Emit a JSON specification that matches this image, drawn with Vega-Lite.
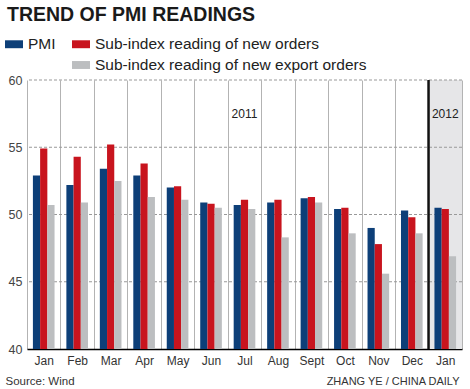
{
  "$schema": "https://vega.github.io/schema/vega-lite/v6.json",
  "width": 435,
  "height": 269,
  "autosize": {"type": "none"},
  "padding": {"left": 27, "top": 80, "right": 8, "bottom": 40},
  "background": "#ffffff",
  "config": {
    "view": {"stroke": null},
    "font": "Liberation Sans",
    "axisX": {
      "grid": true, "gridColor": "#b3b3b3", "gridWidth": 1, "tickBand": "extent",
      "domainColor": "#000000", "domainWidth": 1.5, "ticks": false,
      "labelFontSize": 12, "labelColor": "#333333", "labelPadding": 6, "labelAngle": 0,
      "labelExpr": "split(datum.label, ' ')[0]",
      "titleAnchor": "start", "titleX": -22, "titleY": 35, "titleAlign": "left",
      "titleBaseline": "alphabetic", "titleFontWeight": "normal", "titleFontSize": 11.5, "titleColor": "#333333"
    },
    "axisY": {
      "grid": false, "domain": false, "ticks": false,
      "labelFontSize": 12.5, "labelColor": "#444444", "labelPadding": 5,
      "titleAngle": 0, "titleX": 432, "titleY": 304, "titleAlign": "right",
      "titleBaseline": "alphabetic", "titleFontWeight": "normal", "titleFontSize": 11, "titleColor": "#333333"
    },
    "legend": {
      "orient": "none", "legendX": -22, "legendY": -45, "columns": 2,
      "symbolType": "M-1,-0.44H1V0.44H-1Z", "symbolSize": 324,
      "symbolStrokeWidth": 0, "symbolOpacity": 1,
      "labelFontSize": 15.5, "labelColor": "#222222", "labelOffset": 5, "labelLimit": 400,
      "columnPadding": 16, "rowPadding": 3, "padding": 0
    }
  },
  "title": {
    "text": "TREND OF PMI READINGS", "anchor": "start", "frame": "group",
    "fontSize": 19.5, "fontWeight": "bold", "color": "#1a1a1a", "dx": -20, "offset": 10
  },
  "encoding": {
    "x": {
      "field": "month", "type": "nominal", "title": "Source: Wind",
      "scale": {
        "domain": ["Jan", "Feb", "Mar", "Apr", "May", "Jun", "Jul", "Aug", "Sept", "Oct", "Nov", "Dec", "Jan 2012"],
        "paddingInner": 0, "paddingOuter": 0
      }
    }
  },
  "layer": [
    {
      "data": {"values": [{"month": "Jan 2012", "lo": 40, "hi": 60}]},
      "mark": {"type": "bar", "color": "#e6e6e8"},
      "encoding": {
        "y": {"field": "lo", "type": "quantitative", "title": "ZHANG YE / CHINA DAILY", "scale": {"domain": [40, 60], "nice": false, "zero": false}},
        "y2": {"field": "hi"}
      }
    },
    {
      "data": {"values": [{"v": 45}, {"v": 50}, {"v": 55}, {"v": 60}]},
      "mark": {"type": "rule", "color": "#999999", "strokeDash": [3, 2], "strokeWidth": 1},
      "encoding": {
        "x": null,
        "y": {"field": "v", "type": "quantitative", "title": "ZHANG YE / CHINA DAILY", "scale": {"domain": [40, 60], "nice": false, "zero": false}}
      }
    },
    {
      "data": {"values": [
        {"month": "Jan", "series": "PMI", "value": 52.9},
        {"month": "Jan", "series": "Sub-index reading of new orders", "value": 54.9},
        {"month": "Jan", "series": "Sub-index reading of new export orders", "value": 50.7},
        {"month": "Feb", "series": "PMI", "value": 52.2},
        {"month": "Feb", "series": "Sub-index reading of new orders", "value": 54.3},
        {"month": "Feb", "series": "Sub-index reading of new export orders", "value": 50.9},
        {"month": "Mar", "series": "PMI", "value": 53.4},
        {"month": "Mar", "series": "Sub-index reading of new orders", "value": 55.2},
        {"month": "Mar", "series": "Sub-index reading of new export orders", "value": 52.5},
        {"month": "Apr", "series": "PMI", "value": 52.9},
        {"month": "Apr", "series": "Sub-index reading of new orders", "value": 53.8},
        {"month": "Apr", "series": "Sub-index reading of new export orders", "value": 51.3},
        {"month": "May", "series": "PMI", "value": 52.0},
        {"month": "May", "series": "Sub-index reading of new orders", "value": 52.1},
        {"month": "May", "series": "Sub-index reading of new export orders", "value": 51.1},
        {"month": "Jun", "series": "PMI", "value": 50.9},
        {"month": "Jun", "series": "Sub-index reading of new orders", "value": 50.8},
        {"month": "Jun", "series": "Sub-index reading of new export orders", "value": 50.5},
        {"month": "Jul", "series": "PMI", "value": 50.7},
        {"month": "Jul", "series": "Sub-index reading of new orders", "value": 51.1},
        {"month": "Jul", "series": "Sub-index reading of new export orders", "value": 50.4},
        {"month": "Aug", "series": "PMI", "value": 50.9},
        {"month": "Aug", "series": "Sub-index reading of new orders", "value": 51.1},
        {"month": "Aug", "series": "Sub-index reading of new export orders", "value": 48.3},
        {"month": "Sept", "series": "PMI", "value": 51.2},
        {"month": "Sept", "series": "Sub-index reading of new orders", "value": 51.3},
        {"month": "Sept", "series": "Sub-index reading of new export orders", "value": 50.9},
        {"month": "Oct", "series": "PMI", "value": 50.4},
        {"month": "Oct", "series": "Sub-index reading of new orders", "value": 50.5},
        {"month": "Oct", "series": "Sub-index reading of new export orders", "value": 48.6},
        {"month": "Nov", "series": "PMI", "value": 49.0},
        {"month": "Nov", "series": "Sub-index reading of new orders", "value": 47.8},
        {"month": "Nov", "series": "Sub-index reading of new export orders", "value": 45.6},
        {"month": "Dec", "series": "PMI", "value": 50.3},
        {"month": "Dec", "series": "Sub-index reading of new orders", "value": 49.8},
        {"month": "Dec", "series": "Sub-index reading of new export orders", "value": 48.6},
        {"month": "Jan 2012", "series": "PMI", "value": 50.5},
        {"month": "Jan 2012", "series": "Sub-index reading of new orders", "value": 50.4},
        {"month": "Jan 2012", "series": "Sub-index reading of new export orders", "value": 46.9}
      ]},
      "mark": {"type": "bar"},
      "encoding": {
        "xOffset": {
          "field": "series", "type": "nominal",
          "scale": {"domain": ["PMI", "Sub-index reading of new orders", "Sub-index reading of new export orders"], "paddingInner": 0, "paddingOuter": 0.82}
        },
        "y": {
          "field": "value", "type": "quantitative", "title": "ZHANG YE / CHINA DAILY",
          "scale": {"domain": [40, 60], "nice": false, "zero": false},
          "axis": {"values": [40, 45, 50, 55, 60]}
        },
        "y2": {"datum": 40},
        "color": {
          "field": "series", "type": "nominal",
          "scale": {
            "domain": ["PMI", " ", "Sub-index reading of new orders", "Sub-index reading of new export orders"],
            "range": ["#0d3f78", "transparent", "#c8141e", "#bcbec0"]
          },
          "legend": {"title": null}
        }
      }
    },
    {
      "data": {"values": [{"month": "Jan 2012"}]},
      "mark": {"type": "rule", "color": "#111111", "strokeWidth": 2.5},
      "encoding": {
        "x": {"field": "month", "type": "nominal", "bandPosition": 0, "title": "Source: Wind"}
      }
    },
    {
      "data": {"values": [{"month": "Jul", "y": 57.5, "label": "2011"}, {"month": "Jan 2012", "y": 57.5, "label": "2012"}]},
      "mark": {"type": "text", "fontSize": 12, "color": "#222222", "baseline": "middle", "align": "center"},
      "encoding": {
        "y": {"field": "y", "type": "quantitative", "title": "ZHANG YE / CHINA DAILY", "scale": {"domain": [40, 60], "nice": false, "zero": false}},
        "text": {"field": "label"}
      }
    }
  ]
}
